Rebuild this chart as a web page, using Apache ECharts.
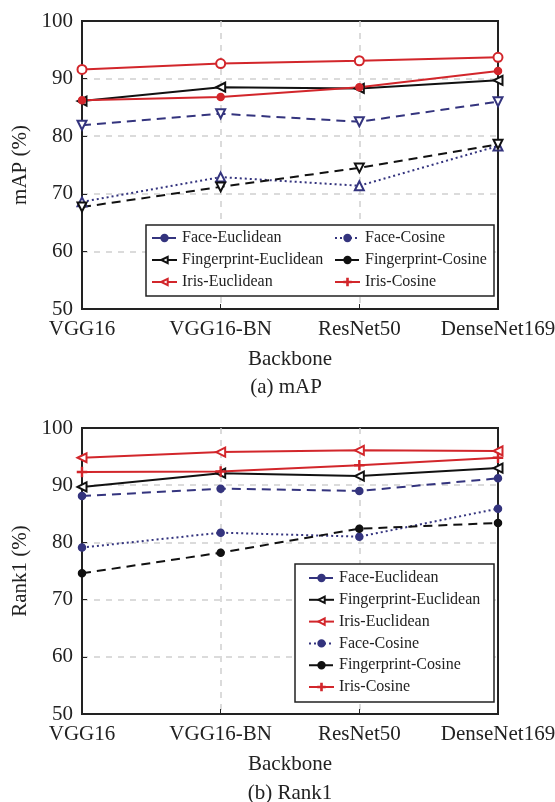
<!DOCTYPE html>
<html><head><meta charset="utf-8">
<script src="https://cdn.jsdelivr.net/npm/echarts@6/dist/echarts.min.js"></script>
<style>html,body{margin:0;padding:0;background:#fff}#c{width:555px;height:802px}</style>
</head><body><div id="c"></div>
<script>
const categories = ['VGG16', 'VGG16-BN', 'ResNet50', 'DenseNet169'];
const yTicks = [50, 60, 70, 80, 90, 100];

// (a) mAP
const mapFaceEuclidean = [81.9, 83.9, 82.5, 86.0];
const mapFaceCosine = [68.6, 72.9, 71.4, 78.3];
const mapFingerEuclidean = [86.1, 88.5, 88.3, 89.7];
const mapFingerCosine = [67.7, 71.2, 74.5, 78.6];
const mapIrisEuclidean = [91.6, 92.6, 93.1, 93.7];
const mapIrisCosine = [86.25, 86.8, 88.5, 91.3];

// (b) Rank1
const r1FaceEuclidean = [88.1, 89.4, 89.0, 91.2];
const r1FaceCosine = [79.1, 81.7, 81.0, 85.9];
const r1FingerEuclidean = [89.7, 92.1, 91.6, 93.0];
const r1FingerCosine = [74.6, 78.2, 82.4, 83.4];
const r1IrisEuclidean = [94.8, 95.8, 96.1, 96.0];
const r1IrisCosine = [92.3, 92.4, 93.5, 94.8];

const NAVY = '#34347e', BLACK = '#111111', RED = '#d2262b';
const FONT = 'Liberation Serif';
const PLUS = 'path://M-1,-0.1H1V0.1H-1Z M-0.1,-1H0.1V1H-0.1Z';

function ser(name, data, idx, color, lineType, symbol, rot, size) {
  return {
    name, type: 'line', data, xAxisIndex: idx, yAxisIndex: idx,
    symbol, symbolRotate: rot, symbolSize: size,
    lineStyle: { color, width: 2, type: lineType },
    itemStyle: { color, borderColor: color, borderWidth: 1.5 },
    emphasis: { disabled: true }, animation: false
  };
}

const splitStyle = { color: '#cfcfcf', type: [6, 6], width: 1.5 };
function xAxis(idx) {
  return {
    type: 'category', gridIndex: idx, data: categories, boundaryGap: false,
    axisLine: { lineStyle: { color: '#222', width: 2 } },
    axisTick: { inside: true, length: 5, interval: 0, lineStyle: { color: '#222' } },
    axisLabel: { color: '#222', fontFamily: FONT, fontSize: 21, margin: 10, interval: 0 },
    splitLine: { show: true, interval: 0, showMinLine: false, showMaxLine: false, lineStyle: splitStyle },
    name: 'Backbone', nameLocation: 'middle', nameGap: 40,
    nameTextStyle: { color: '#222', fontFamily: FONT, fontSize: 21 }
  };
}
function yAxis(idx, name) {
  return {
    type: 'value', gridIndex: idx, min: 50, max: 100, interval: 10,
    axisLine: { show: true, lineStyle: { color: '#222', width: 2 } },
    axisTick: { show: true, inside: true, length: 5, lineStyle: { color: '#222' } },
    axisLabel: { color: '#222', fontFamily: FONT, fontSize: 21, margin: 9,
      formatter: v => yTicks.includes(v) ? String(v) : '' },
    splitLine: { show: true, showMinLine: false, showMaxLine: false, lineStyle: splitStyle },
    name, nameLocation: 'middle', nameGap: 44,
    nameTextStyle: { color: '#222', fontFamily: FONT, fontSize: 21 }
  };
}
const legendText = { color: '#222', fontFamily: FONT, fontSize: 16, lineHeight: 16 };
function legend(names, left, top, gap) {
  return { data: names, orient: 'vertical', left, top, padding: 0, itemGap: gap,
    itemWidth: 25, itemHeight: 8, textStyle: legendText, selectedMode: false, z: 10 };
}

const chart = echarts.init(document.getElementById('c'));
chart.setOption({
  backgroundColor: '#fff',
  animation: false,
  grid: [
    { left: 82, right: 57, top: 21, bottom: 493, show: true, borderColor: '#222', borderWidth: 2, outerBoundsMode: 'none', containLabel: false },
    { left: 82, right: 57, top: 428, bottom: 88, show: true, borderColor: '#222', borderWidth: 2, outerBoundsMode: 'none', containLabel: false }
  ],
  xAxis: [xAxis(0), xAxis(1)],
  yAxis: [yAxis(0, 'mAP (%)'), yAxis(1, 'Rank1 (%)')],
  title: [
    { text: '(a) mAP', left: 286, top: 377, textAlign: 'center', padding: 0,
      textStyle: { color: '#222', fontFamily: FONT, fontSize: 21, fontWeight: 'normal' } },
    { text: '(b) Rank1', left: 290, top: 783, textAlign: 'center', padding: 0,
      textStyle: { color: '#222', fontFamily: FONT, fontSize: 21, fontWeight: 'normal' } }
  ],
  graphic: [
    { type: 'rect', shape: { x: 146, y: 225, width: 348, height: 71 }, z: 5,
      style: { fill: '#fff', stroke: '#222', lineWidth: 1.5 } },
    { type: 'rect', shape: { x: 295, y: 564, width: 199, height: 138 }, z: 5,
      style: { fill: '#fff', stroke: '#222', lineWidth: 1.5 } }
  ],
  legend: [
    legend(['Face-Euclidean', 'Fingerprint-Euclidean', 'Iris-Euclidean'], 151, 230, 6),
    legend(['Face-Cosine', 'Fingerprint-Cosine', 'Iris-Cosine'], 334, 230, 6),
    legend(['Face-Euclidean', 'Fingerprint-Euclidean', 'Iris-Euclidean', 'Face-Cosine', 'Fingerprint-Cosine', 'Iris-Cosine'], 308, 570, 5.8)
  ],
  series: [
    // (b) Rank1 (declared first: legend icons follow these markers)
    ser('Face-Euclidean', r1FaceEuclidean, 1, NAVY, [9, 6], 'circle', 0, 7),
    ser('Fingerprint-Euclidean', r1FingerEuclidean, 1, BLACK, 'solid', 'emptyTriangle', 90, 9),
    ser('Iris-Euclidean', r1IrisEuclidean, 1, RED, 'solid', 'emptyTriangle', 90, 9),
    ser('Face-Cosine', r1FaceCosine, 1, NAVY, [2, 3], 'circle', 0, 7),
    ser('Fingerprint-Cosine', r1FingerCosine, 1, BLACK, [9, 6], 'circle', 0, 7),
    ser('Iris-Cosine', r1IrisCosine, 1, RED, 'solid', PLUS, 0, 9),
    // (a) mAP
    ser('Face-Euclidean', mapFaceEuclidean, 0, NAVY, [9, 6], 'emptyTriangle', 180, 9),
    ser('Face-Cosine', mapFaceCosine, 0, NAVY, [2, 3], 'emptyTriangle', 0, 9),
    ser('Fingerprint-Euclidean', mapFingerEuclidean, 0, BLACK, 'solid', 'emptyTriangle', 90, 9),
    ser('Fingerprint-Cosine', mapFingerCosine, 0, BLACK, [9, 6], 'emptyTriangle', 180, 9),
    ser('Iris-Euclidean', mapIrisEuclidean, 0, RED, 'solid', 'emptyCircle', 0, 9),
    ser('Iris-Cosine', mapIrisCosine, 0, RED, 'solid', 'circle', 0, 7)
  ]
});
</script></body></html>
